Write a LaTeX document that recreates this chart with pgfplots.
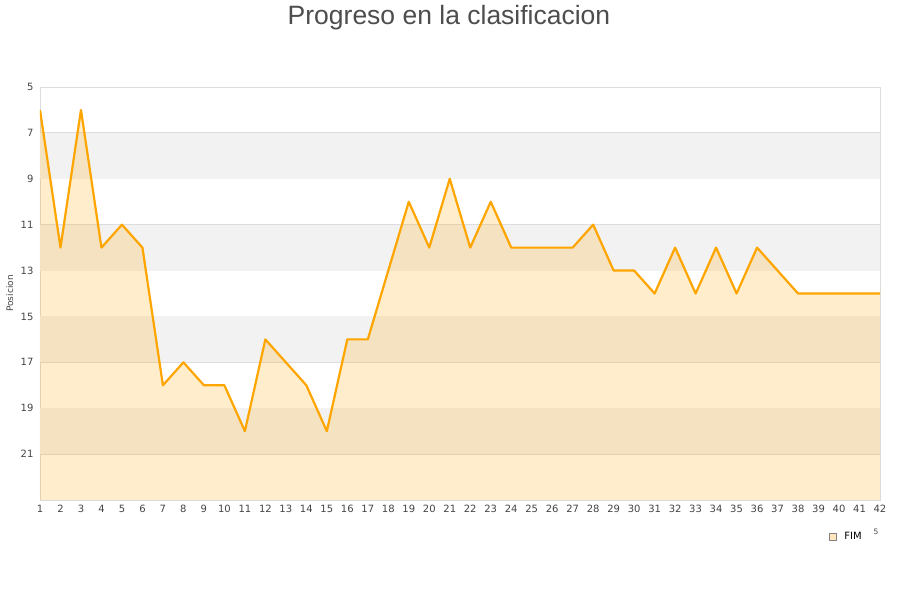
\documentclass[border=0pt]{standalone}
\usepackage{pgfplots}
\pgfplotsset{compat=1.18}
\usepackage{fontspec}
\setmainfont{DejaVu Sans}
\newfontfamily\titlefont{Liberation Sans}
\definecolor{txt}{HTML}{444444}
\definecolor{gridc}{HTML}{DDDDDD}
\definecolor{bandc}{HTML}{F2F2F2}
\definecolor{linec}{HTML}{FFA500}
\definecolor{legfill}{HTML}{FFE6BC}
\begin{document}
\begin{tikzpicture}
\useasboundingbox (0,0) rectangle (900pt,600pt);
\node[font=\titlefont\fontsize{26.5}{30}\selectfont, text=txt!95] at (449pt,582pt) {Progreso en la clasificacion};
\begin{axis}[
  at={(40pt,100pt)}, anchor=south west,
  scale only axis, width=840pt, height=413pt,
  xmin=1, xmax=42, ymin=5, ymax=23, y dir=reverse,
  xtick={1,...,42}, ytick={5,7,...,21},
  ymajorgrids, grid style={gridc, line width=0.8pt},
  axis line style={gridc, line width=0.8pt},
  major tick length=0pt,
  tick label style={font=\fontsize{10}{12}\selectfont, text=txt},
  /pgf/number format/assume math mode=true,
  xticklabel style={yshift=-2pt},
  yticklabel style={xshift=-3pt},
  ylabel={Posicion}, ylabel style={font=\fontsize{9}{10}\selectfont, text=txt, at={(axis description cs:-0.036,0.5)}, anchor=center},
  legend style={at={(axis description cs:0.96,-0.088)}, anchor=center, draw=none, fill=none, font=\fontsize{10}{12}\selectfont, text=black},
  clip=true,
]
\foreach \a in {7,11,15,19} {
  \edef\tmp{\noexpand\fill[bandc] (axis cs:1,\a) rectangle (axis cs:42,\a+2);}
  \tmp
}
\addplot[draw=none, fill=linec, fill opacity=0.2, forget plot] coordinates {
(1,23) (1,6) (2,12) (3,6) (4,12) (5,11) (6,12) (7,18) (8,17) (9,18) (10,18)
(11,20) (12,16) (13,17) (14,18) (15,20) (16,16) (17,16) (18,13) (19,10) (20,12)
(21,9) (22,12) (23,10) (24,12) (25,12) (26,12) (27,12) (28,11) (29,13) (30,13)
(31,14) (32,12) (33,14) (34,12) (35,14) (36,12) (37,13) (38,14) (39,14) (40,14)
(41,14) (42,14) (42,23)} -- cycle;
\addplot[linec, line width=2.2pt, line join=round,
  legend image code/.code={\draw[fill=legfill, draw=gray, line width=0.5pt] (0pt,-3.5pt) rectangle (7pt,3.5pt); \path (12pt,0pt);}]
 coordinates {
(1,6) (2,12) (3,6) (4,12) (5,11) (6,12) (7,18) (8,17) (9,18) (10,18)
(11,20) (12,16) (13,17) (14,18) (15,20) (16,16) (17,16) (18,13) (19,10) (20,12)
(21,9) (22,12) (23,10) (24,12) (25,12) (26,12) (27,12) (28,11) (29,13) (30,13)
(31,14) (32,12) (33,14) (34,12) (35,14) (36,12) (37,13) (38,14) (39,14) (40,14)
(41,14) (42,14)};
\addlegendentry{FIM}
\end{axis}
\node[font=\fontsize{7.5}{8}\selectfont, text=txt] at (876pt,68pt) {5};
\end{tikzpicture}
\end{document}
